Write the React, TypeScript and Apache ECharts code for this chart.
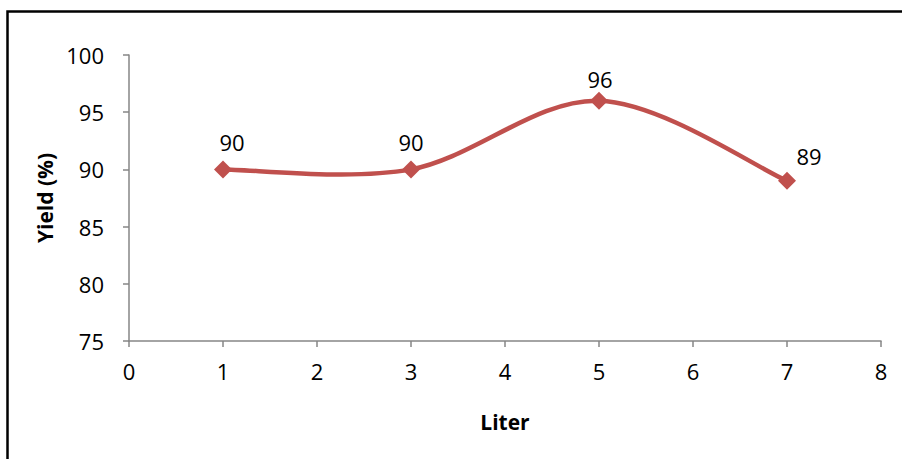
import React, { useEffect, useRef } from "react";
import * as echarts from "echarts";

const liters = [1, 3, 5, 7];
const yields = [90, 90, 96, 89];
const labelOffsets: [number, number][] = [[9, -27], [0, -27], [1, -22], [22, -25]];
const xTicks = [0, 1, 2, 3, 4, 5, 6, 7, 8];
const yTicks = [75, 80, 85, 90, 95, 100];

const FONT = "'Open Sans', 'Noto Sans', sans-serif";
const AXIS_COLOR = "#868686";
const LINE_COLOR = "#C0504D";

export default function App() {
  const ref = useRef<HTMLDivElement>(null);
  useEffect(() => {
    if (!ref.current) return;
    const chart = echarts.init(ref.current, undefined, { renderer: "svg" });
    const points = liters.map((x, i) => [x, yields[i]]);
    chart.setOption({
      animation: false,
      backgroundColor: "#ffffff",
      graphic: [
        {
          type: "rect",
          shape: { x: 7.5, y: 11.5, width: 905, height: 460 },
          style: { fill: "none", stroke: "#000", lineWidth: 2.5 },
          silent: true,
        },
      ],
      grid: { left: 129, right: 21, top: 55, bottom: 118, containLabel: false },
      xAxis: {
        type: "value",
        min: xTicks[0],
        max: xTicks[xTicks.length - 1],
        interval: 1,
        name: "Liter",
        nameLocation: "middle",
        nameGap: 70,
        nameTextStyle: { fontFamily: FONT, fontWeight: "bold", fontSize: 21, color: "#000" },
        axisLine: { show: true, lineStyle: { color: AXIS_COLOR, width: 1.5 } },
        axisTick: { show: true, inside: false, length: 6, lineStyle: { color: AXIS_COLOR, width: 1.5 } },
        splitLine: { show: false },
        axisLabel: { fontFamily: FONT, fontSize: 22, color: "#000", margin: 19 },
      },
      yAxis: {
        type: "value",
        min: yTicks[0],
        max: yTicks[yTicks.length - 1],
        interval: 5,
        name: "Yield (%)",
        nameLocation: "middle",
        nameGap: 64,
        nameRotate: 90,
        nameTextStyle: { fontFamily: FONT, fontWeight: "bold", fontSize: 21, color: "#000" },
        axisLine: { show: true, lineStyle: { color: AXIS_COLOR, width: 1.5 } },
        axisTick: { show: true, inside: false, length: 6, lineStyle: { color: AXIS_COLOR, width: 1.5 } },
        splitLine: { show: false },
        axisLabel: { fontFamily: FONT, fontSize: 22, color: "#000", margin: 25 },
      },
      series: [
        {
          type: "custom",
          data: points,
          silent: true,
          z: 2,
          renderItem: (params: any, api: any) => {
            if (params.dataIndex !== 0) return null;
            const n = liters.length;
            const P = liters.map((x, i) => api.coord([x, yields[i]]));
            const children: any[] = [];
            for (let i = 0; i < n - 1; i++) {
              const p0 = P[Math.max(i - 1, 0)];
              const p1 = P[i];
              const p2 = P[i + 1];
              const p3 = P[Math.min(i + 2, n - 1)];
              children.push({
                type: "bezierCurve",
                shape: {
                  x1: p1[0],
                  y1: p1[1],
                  cpx1: p1[0] + (p2[0] - p0[0]) / 6,
                  cpy1: p1[1] + (p2[1] - p0[1]) / 6,
                  cpx2: p2[0] - (p3[0] - p1[0]) / 6,
                  cpy2: p2[1] - (p3[1] - p1[1]) / 6,
                  x2: p2[0],
                  y2: p2[1],
                },
                style: { stroke: LINE_COLOR, lineWidth: 4.5, fill: "none", lineCap: "round" },
              });
            }
            return { type: "group", children };
          },
        },
        {
          type: "scatter",
          z: 3,
          data: points.map((p, i) => ({
            value: p,
            label: { offset: labelOffsets[i] },
          })),
          symbol: "diamond",
          symbolSize: 18,
          itemStyle: { color: LINE_COLOR, opacity: 1 },
          label: {
            show: true,
            position: "inside",
            fontFamily: FONT,
            fontSize: 22,
            color: "#000",
            formatter: (p: any) => String(p.value[1]),
          },
        },
      ],
    });
    return () => chart.dispose();
  }, []);
  return (
    <div
      ref={ref}
      style={{ position: "fixed", left: 0, top: 0, width: 902, height: 459 }}
    />
  );
}
